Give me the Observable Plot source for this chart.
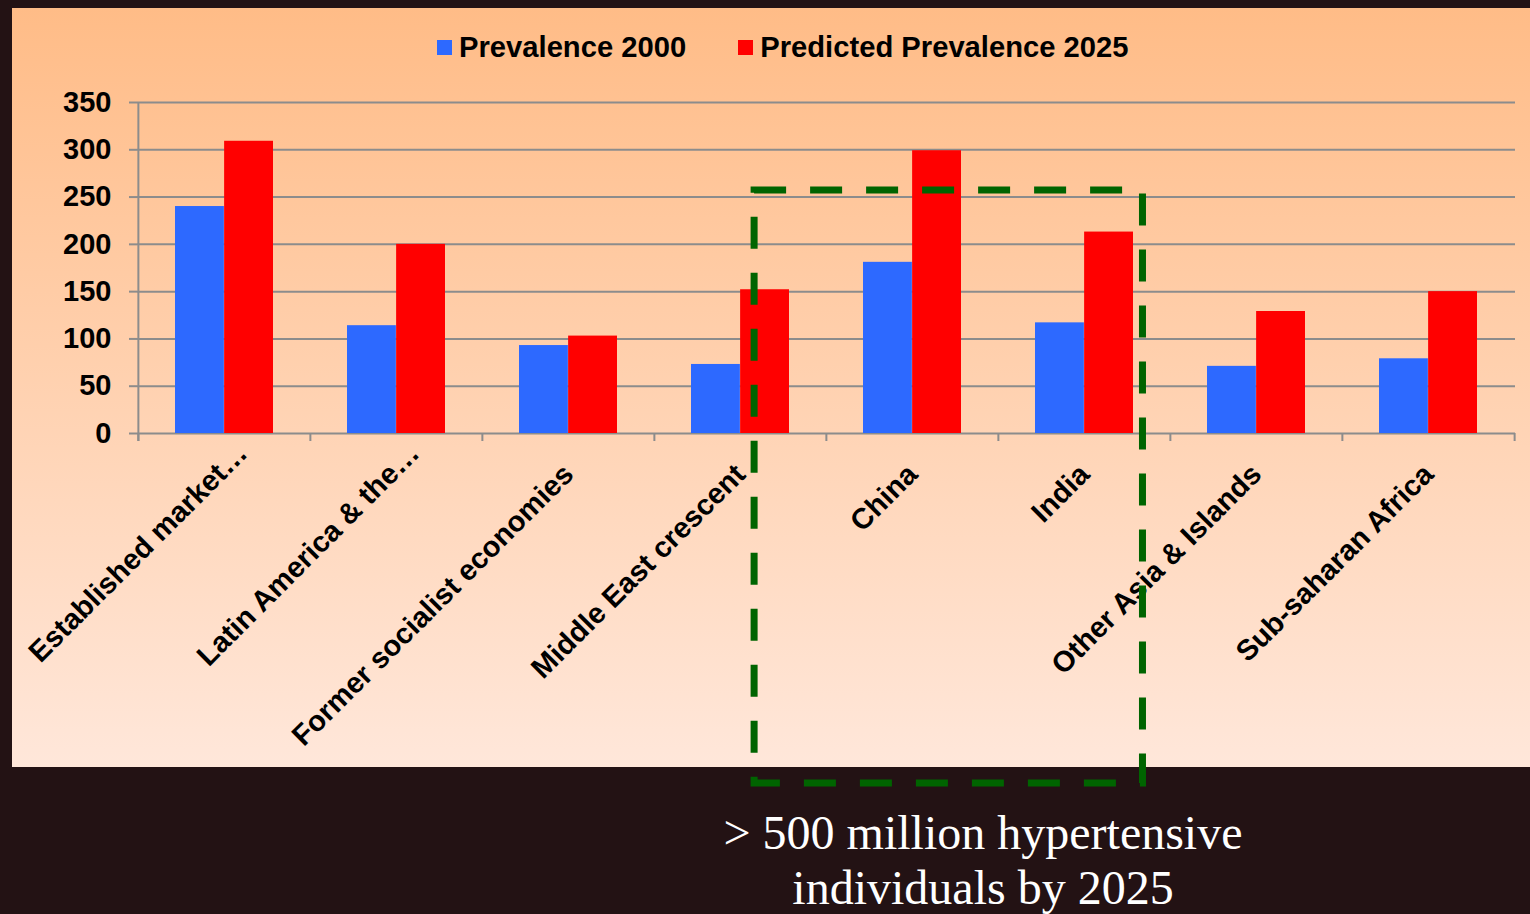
<!DOCTYPE html>
<html>
<head>
<meta charset="utf-8">
<script src="https://cdn.jsdelivr.net/npm/d3@7"></script>
<script src="https://cdn.jsdelivr.net/npm/@observablehq/plot@0.6"></script>
<style>
  html, body { margin: 0; padding: 0; background: #231214; width: 1530px; height: 914px; overflow: hidden; }
  body { position: relative; font-family: "Liberation Sans", Arial, sans-serif; }
  #panel { position: absolute; left: 12px; top: 8px; width: 1518px; height: 759px;
           background: linear-gradient(#ffbc87, #ffe7da); }
  #legend { position: absolute; left: 425px; top: 23px; display: flex; align-items: center;
            font-size: 29.2px; font-weight: bold; color: #000; white-space: nowrap; }
  #legend .item { display: flex; align-items: center; }
  #legend .sw { width: 15px; height: 15px; margin-right: 7px; }
  #chart { position: absolute; left: 0; top: 62px; }
  #caption { position: absolute; left: 633px; top: 805px; width: 700px; text-align: center;
             color: #fff; font-family: "Liberation Serif", "Times New Roman", serif;
             font-size: 48px; line-height: 55px; }
</style>
</head>
<body>
<div id="panel">
  <div id="legend"></div>
  <div id="chart"></div>
</div>
<div id="caption"></div>
<script>
// ---- data ----
const categories = [
  "Established market…",
  "Latin America & the…",
  "Former socialist economies",
  "Middle East crescent",
  "China",
  "India",
  "Other Asia & Islands",
  "Sub-saharan Africa"
];
const truncatedLabels = ["Established market…", "Latin America & the…"];
const prevalence2000 = [240, 114, 93, 73, 181, 117, 71, 79];
const predicted2025 = [309, 200, 103, 152, 299, 213, 129, 150];
const seriesNames = ["Prevalence 2000", "Predicted Prevalence 2025"];
const seriesColors = ["#2d69ff", "#ff0000"];
const yTicks = [0, 50, 100, 150, 200, 250, 300, 350];
const captionLines = ["> 500 million hypertensive", "individuals by 2025"];
const highlight = { from: "Middle East crescent", to: "India", top: 257 };

// ---- legend & caption ----
const legend = document.getElementById("legend");
seriesNames.forEach((name, i) => {
  const item = document.createElement("div");
  item.className = "item";
  if (i > 0) item.style.marginLeft = "52px";
  const sw = document.createElement("span");
  sw.className = "sw";
  sw.style.background = seriesColors[i];
  const t = document.createElement("span");
  t.textContent = name;
  item.appendChild(sw); item.appendChild(t);
  legend.appendChild(item);
});
document.getElementById("caption").innerHTML = captionLines.map(s => s.replace(/&/g,"&amp;").replace(/</g,"&lt;").replace(/>/g,"&gt;")).join("<br>");

// ---- chart ----
const W = 1518, H = 697, mL = 125, mR = 15, mT = 32, mB = 334;
const bw = (W - mL - mR) / categories.length;
const gray = "#8c8c8c";
const rows2000 = categories.map((c, i) => ({ category: c, series: seriesNames[0], value: prevalence2000[i] }));
const rows2025 = categories.map((c, i) => ({ category: c, series: seriesNames[1], value: predicted2025[i] }));
const fullLabels = categories.filter(c => !truncatedLabels.includes(c));

function highlightBox(index, scales, values, dims) {
  const x = scales.x, y = scales.y;
  const b = x.bandwidth();
  const x1 = x(highlight.from) + b * 0.582;
  const x2 = x(highlight.to) + b * 0.84;
  const y1 = y(highlight.top);
  const y2 = dims.height + 16;
  return d3.create("svg:path")
    .attr("d", `M${x1},${y1}H${x2}V${y2}H${x1}Z`)
    .attr("fill", "none")
    .attr("stroke", "#006400")
    .attr("stroke-width", 7)
    .attr("stroke-dasharray", "32 24")
    .node();
}

const labelStyle = { tickSize: 0, tickRotate: -45, fontSize: 29, fontWeight: "bold", label: null };

const chart = Plot.plot({
  width: W, height: H,
  marginLeft: mL, marginRight: mR, marginTop: mT, marginBottom: mB,
  style: { background: "transparent", overflow: "visible", color: "#000",
           fontFamily: "'Liberation Sans', Arial, sans-serif" },
  x: { domain: categories, padding: 0 },
  y: { domain: [0, 350] },
  marks: [
    Plot.gridY(yTicks, { stroke: gray, strokeOpacity: 1, strokeWidth: 2 }),
    Plot.barY(rows2000, { x: "category", y: "value", fill: seriesColors[0],
      insetLeft: bw * 0.2148, insetRight: bw * 0.5 }),
    Plot.barY(rows2025, { x: "category", y: "value", fill: seriesColors[1],
      insetLeft: bw * 0.5, insetRight: bw * 0.2148 }),
    Plot.ruleX(categories, { dx: -bw / 2, y1: 0, y2: 0, insetBottom: -8, stroke: gray, strokeWidth: 2 }),
    Plot.ruleX(categories.slice(-1), { dx: bw / 2, y1: 0, y2: 0, insetBottom: -8, stroke: gray, strokeWidth: 2 }),
    Plot.ruleX(categories.slice(0, 1), { dx: -bw / 2, y1: 350, y2: 0, insetBottom: -8, stroke: gray, strokeWidth: 2 }),
    Plot.axisY(yTicks, { tickSize: 8, tickPadding: 18, fontSize: 29, fontWeight: "bold",
      stroke: gray, strokeWidth: 2, label: null }),
    Plot.axisX(truncatedLabels, { ...labelStyle, tickPadding: 15, dx: 18 }),
    Plot.axisX(fullLabels, { ...labelStyle, tickPadding: 36, dx: 0 }),
    highlightBox
  ]
});
document.getElementById("chart").appendChild(chart);
</script>
</body>
</html>
